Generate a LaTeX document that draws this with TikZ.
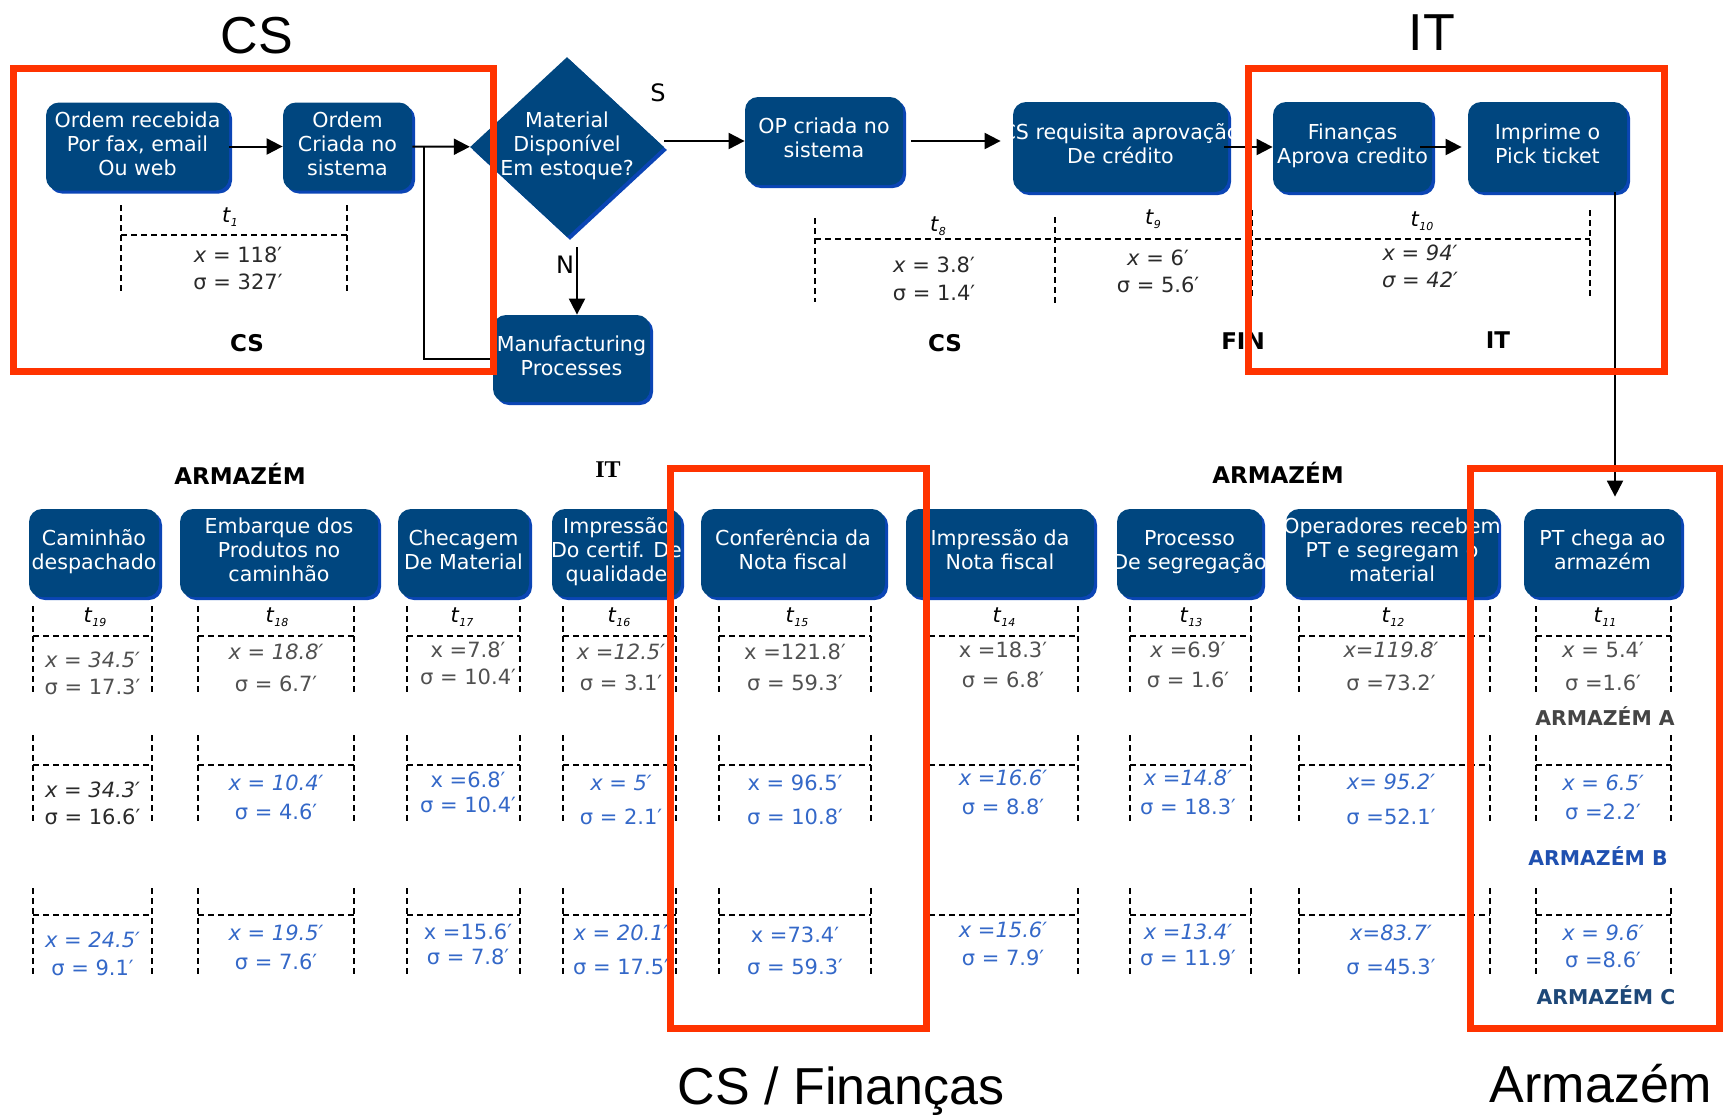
\documentclass[tikz,border=0pt]{standalone}
\usepackage{fontspec}
\setmainfont{DejaVu Sans}
\newfontfamily\titlefont{Liberation Sans}
\newfontfamily\seriffont{Liberation Serif}
\usetikzlibrary{arrows.meta,shapes.geometric,shadows}

\definecolor{boxblue}{HTML}{00467F}
\definecolor{edgeblue}{HTML}{0B45B5}
\definecolor{frame}{HTML}{FF3300}
\definecolor{valblue}{HTML}{3468C8}
\definecolor{valgrey}{HTML}{505050}
\definecolor{valdark}{HTML}{2A2A2A}
\definecolor{whA}{HTML}{454545}
\definecolor{whB}{HTML}{1F50B0}
\definecolor{whC}{HTML}{1E4878}

% time index: italic t with a tiny subscript
\newcommand{\tmark}[1]{\textit{t}\raisebox{-0.4ex}{\fontsize{5.5}{6}\selectfont\itshape #1}}
% centred lines of step text that may run past the box edge without widening it
\newcommand{\steptext}[1]{\makebox[0pt][c]{\begin{tabular}{@{}c@{}}#1\end{tabular}}}
% mean / deviation pair under a step
\newcommand{\statpair}[7]{%
  \node[val,text=#5] (m#1) at (#2,#3) {#6};
  \node[val,text=#5] (s#1) at (#2,#4) {#7};}

\tikzset{
  proc/.style={fill=boxblue, rounded corners=6.5pt, text=white,
    font=\fontsize{10.3}{12}\selectfont, inner sep=0pt, minimum height=44pt,
    drop shadow={shadow xshift=1.5pt, shadow yshift=-1.5pt, fill=edgeblue, opacity=1}},
  decision/.style={diamond, fill=boxblue, inner sep=0pt, minimum width=97pt, minimum height=90pt,
    drop shadow={shadow xshift=1.5pt, shadow yshift=-1.5pt, fill=edgeblue, opacity=1}},
  flow/.style={line width=1pt, -{Triangle[length=8pt,width=8pt]}},
  plain/.style={line width=1pt},
  timer/.style={line width=1pt, dash pattern=on 3pt off 2pt},
  zone/.style={draw=frame, line width=3.5pt},
  val/.style={font=\fontsize{10.5}{12}\selectfont, inner sep=0pt},
  tlab/.style={font=\fontsize{10.5}{12}\selectfont, inner sep=0pt},
  dept/.style={font=\fontsize{11.5}{13}\selectfont\bfseries, inner sep=0pt},
  subdept/.style={font=\fontsize{10.2}{12}\selectfont\bfseries, inner sep=0pt},
  title/.style={font=\titlefont\fontsize{26}{30}\selectfont, anchor=base, inner sep=0pt},
  yesno/.style={font=\fontsize{12}{14}\selectfont, inner sep=0pt},
}

\begin{document}
\begin{tikzpicture}[x=0.5pt,y=-0.5pt]
\useasboundingbox (0,0) rectangle (1723,1114);

% ---------- upper flow ----------
\node[proc, minimum width=91.5pt] (b1) at (137.5,146.5) {\steptext{Ordem recebida\\Por fax, email\\Ou web}};
\node[proc, minimum width=64.5pt] (b2) at (347.5,146.5) {\steptext{Ordem\\Criada no\\sistema}};
\node[decision] (dia) at (567,147) {};
\node[text=white, font=\fontsize{10.3}{12}\selectfont, inner sep=0pt] (diatext) at (dia) {\steptext{Material\\Disponível\\Em estoque?}};
\node[proc, minimum width=79pt] (b3) at (824,141) {\steptext{OP criada no\\sistema}};
\node[proc, minimum width=107.5pt, minimum height=45pt] (b4) at (1120.5,147) {\steptext{CS requisita aprovação\\De crédito}};
\node[proc, minimum width=79.5pt, minimum height=45pt] (b5) at (1352.5,147) {\steptext{Finanças\\Aprova credito}};
\node[proc, minimum width=79.5pt, minimum height=45pt] (b6) at (1547.5,147) {\steptext{Imprime o\\Pick ticket}};
\node[proc, minimum width=78.5pt, minimum height=43.5pt] (mp) at (571.5,358.5) {\steptext{Manufacturing\\Processes}};

\node[yesno] (slab) at (658,93) {S};
\node[yesno] (nlab) at (565,265) {N};

\coordinate (split) at (424,146.5);
\coordinate (nline) at (577,0);
\coordinate (dropline) at (1615,0);

\draw[flow] (b1) -- (b2);
\draw[flow] (b2) -- (dia);
\draw[plain] (split) |- (mp.west);
\draw[flow] ([yshift=-5pt]dia.south -| nline) -- (mp.north -| nline);
\draw[flow] (dia.east |- b3.west) -- (b3.west);
\draw[flow, shorten <=4pt, shorten >=6pt] (b3.east) -- (b3.east -| b4.west);
\draw[flow] ([xshift=-2pt]b4.east) -- (b5.west);
\draw[flow] ([xshift=-6pt]b5.east) -- ([xshift=-3pt]b6.west);

% ---------- upper timing brackets ----------
\draw[timer] (121,205) -- (121,292);
\draw[timer] (347,205) -- (347,292);
\draw[timer] (121,235) -- (347,235);
\node[tlab] (t1) at (230,217) {\tmark{1}};
\node[val,text=valdark] (m1) at (238,255) {\textit{x} = 118′};
\node[val,text=valdark] (s1) at (238,282) {σ = 327′};
\node[dept] (d1) at (247,343) {CS};

\draw[timer] (815,218) -- (815,302);
\draw[timer] (1055,217) -- (1055,303);
\draw[timer] (1252,210) -- (1252,297);
\draw[timer] (1590,210) -- (1590,297);
\draw[timer] (815,239) -- (1590,239);
\node[tlab] (t8) at (938,226) {\tmark{8}};
\node[tlab] (t9) at (1153,219) {\tmark{9}};
\node[tlab] (t10) at (1422,221) {\tmark{10}};
\node[val,text=valdark] (m8) at (934,265) {\textit{x} = 3.8′};
\node[val,text=valdark] (s8) at (934,293) {σ = 1.4′};
\node[val,text=valdark] (m9) at (1158,258) {\textit{x} = 6′};
\node[val,text=valdark] (s9) at (1158,285) {σ = 5.6′};
\node[val,text=valdark] (m10) at (1420,253) {\itshape x = 94′};
\node[val,text=valdark] (s10) at (1420,280) {\itshape σ = 42′};
\node[dept] (d2) at (945,343) {CS};
\node[dept] (d3) at (1243,341) {FIN};
\node[dept] (d4) at (1498,340) {IT};

% ---------- lower flow ----------
\node[dept] (d5) at (240,474) {ARMAZÉM};
\node[font=\seriffont\fontsize{12}{14}\selectfont\bfseries, inner sep=0pt] (d6) at (608,470) {IT};
\node[dept] (d7) at (1278,473) {ARMAZÉM};

\node[proc, minimum width=65pt] (c19) at (94,553) {\steptext{Caminhão\\despachado}};
\node[proc, minimum width=99pt] (c18) at (279,553) {\steptext{Embarque dos\\Produtos no\\caminhão}};
\node[proc, minimum width=65.5pt] (c17) at (463.5,553) {\steptext{Checagem\\De Material}};
\node[proc, minimum width=64.5pt] (c16) at (616.5,553) {\steptext{Impressão\\Do certif. De\\qualidade}};
\node[proc, minimum width=92pt] (c15) at (793,553) {\steptext{Conferência da\\Nota fiscal}};
\node[proc, minimum width=94pt] (c14) at (1000,553) {\steptext{Impressão da\\Nota fiscal}};
\node[proc, minimum width=72.5pt] (c13) at (1189.5,553) {\steptext{Processo\\De segregação}};
\node[proc, minimum width=106pt] (c12) at (1392,553) {\steptext{Operadores recebem\\PT e segregam o\\material}};
\node[proc, minimum width=78.5pt] (c11) at (1602.5,553) {\steptext{PT chega ao\\armazém}};

\draw[flow] (b6.south -| dropline) -- ([yshift=6pt]c11.north -| dropline);

% ---------- lower timing brackets ----------
\foreach \xl/\xr in {33/152,198/354,407/520,563/676,719/871,929/1078,1130/1251,1299/1490,1536/1671}
  \foreach \yt/\yh/\yb in {606/636/692,735/765/822,888/915/974} {
    \draw[timer] (\xl,\yt) -- (\xl,\yb);
    \draw[timer] (\xr,\yt) -- (\xr,\yb);
    \draw[timer] (\xl,\yh) -- (\xr,\yh);
  }
\foreach \n/\tx in {19/95,18/277,17/462,16/619,15/797,14/1004,13/1191,12/1393,11/1605}
  \node[tlab] (t\n) at (\tx,617) {\tmark{\n}};

% first warehouse set
\statpair{19a}{92.5}{660}{687}{valgrey}{\itshape x = 34.5′}{σ = 17.3′}
\statpair{18a}{276}{652}{684}{valgrey}{\itshape x = 18.8′}{σ = 6.7′}
\statpair{17a}{468}{650}{677}{valgrey}{x =7.8′}{σ = 10.4′}
\statpair{16a}{621}{652}{683}{valgrey}{\itshape x =12.5′}{σ = 3.1′}
\statpair{15a}{795}{652}{683}{valgrey}{x =121.8′}{σ = 59.3′}
\statpair{14a}{1003}{650}{680}{valgrey}{x =18.3′}{σ = 6.8′}
\statpair{13a}{1188}{650}{680}{valgrey}{\textit{x} =6.9′}{σ = 1.6′}
\statpair{12a}{1391}{650}{683}{valgrey}{\itshape x=119.8′}{σ =73.2′}
\statpair{11a}{1603}{650}{683}{valgrey}{\textit{x} = 5.4′}{σ =1.6′}
\node[subdept,text=whA] (wa) at (1605,716) {ARMAZÉM A};

% second warehouse set
\statpair{19b}{92.5}{790}{817}{valdark}{\itshape x = 34.3′}{σ = 16.6′}
\statpair{18b}{276}{783}{812}{valblue}{\itshape x = 10.4′}{σ = 4.6′}
\statpair{17b}{468}{780}{805}{valblue}{x =6.8′}{σ = 10.4′}
\statpair{16b}{621}{783}{817}{valblue}{\itshape x = 5′}{σ = 2.1′}
\statpair{15b}{795}{783}{817}{valblue}{x = 96.5′}{σ = 10.8′}
\statpair{14b}{1003}{778}{807}{valblue}{\itshape x =16.6′}{σ = 8.8′}
\statpair{13b}{1188}{778}{807}{valblue}{\itshape x =14.8′}{σ = 18.3′}
\statpair{12b}{1391}{782}{817}{valblue}{\itshape x= 95.2′}{σ =52.1′}
\statpair{11b}{1603}{783}{812}{valblue}{\itshape x = 6.5′}{σ =2.2′}
\node[subdept,text=whB] (wb) at (1598,856) {ARMAZÉM B};

% third warehouse set
\statpair{19c}{92.5}{940}{968}{valblue}{\itshape x = 24.5′}{σ = 9.1′}
\statpair{18c}{276}{933}{962}{valblue}{\itshape x = 19.5′}{σ = 7.6′}
\statpair{17c}{468}{932}{957}{valblue}{x =15.6′}{σ = 7.8′}
\statpair{16c}{621}{933}{967}{valblue}{\itshape x = 20.1′}{σ = 17.5′}
\statpair{15c}{795}{935}{967}{valblue}{x =73.4′}{σ = 59.3′}
\statpair{14c}{1003}{930}{958}{valblue}{\itshape x =15.6′}{σ = 7.9′}
\statpair{13c}{1188}{932}{958}{valblue}{\itshape x =13.4′}{σ = 11.9′}
\statpair{12c}{1391}{933}{967}{valblue}{\itshape x=83.7′}{σ =45.3′}
\statpair{11c}{1603}{933}{960}{valblue}{\itshape x = 9.6′}{σ =8.6′}
\node[subdept,text=whC] (wc) at (1606,995) {ARMAZÉM C};

% ---------- highlighted areas ----------
\draw[zone] (13.5,68) rectangle (493,371);
\draw[zone] (1248,68) rectangle (1664,371);
\draw[zone] (670,468) rectangle (926,1028);
\draw[zone] (1470,468) rectangle (1719.5,1028);

\node[title] (g1) at (257,53) {CS};
\node[title] (g2) at (1432,50) {IT};
\node[title] (g3) at (841,1104) {CS / Finanças};
\node[title] (g4) at (1601,1102) {Armazém};
\end{tikzpicture}
\end{document}
